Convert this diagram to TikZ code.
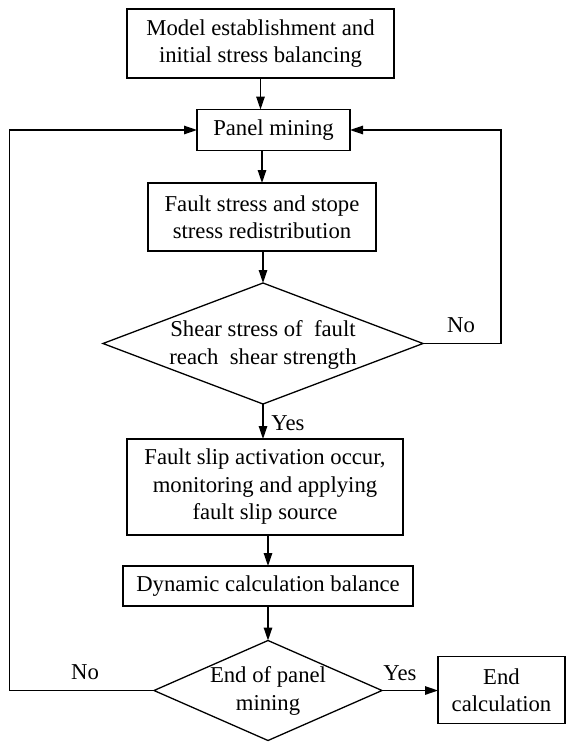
\documentclass[tikz,border=0pt]{standalone}
\usepackage{fontspec}
\setmainfont{Liberation Serif}
\usetikzlibrary{arrows.meta,shapes.geometric}
\begin{document}
\begin{tikzpicture}[x=1pt,y=-1pt,
  font=\fontsize{22.7}{27.5}\selectfont,
  every node/.style={inner sep=0pt,outer sep=0pt},
  boxnode/.style={draw,line width=1.3pt,align=center},
  dianode/.style={draw,line width=1.3pt,diamond,aspect=1},
  lbl/.style={},
  arr/.style={line width=1.3pt,-{Triangle[length=13pt,width=8.5pt]}},
  conn/.style={line width=1.3pt}]
\useasboundingbox (0,0) rectangle (566,742);
\node[boxnode,minimum width=267pt,minimum height=69pt] (b1) at (260.5,43.5) {Model establishment and\\initial stress balancing};
\node[boxnode,minimum width=153pt,minimum height=41pt] (b2) at (273.5,130) {Panel mining};
\node[boxnode,minimum width=228pt,minimum height=68pt] (b3) at (262,217) {Fault stress and stope\\stress redistribution};
\node[dianode,minimum width=320pt,minimum height=121pt] (d1) at (263,343.5) {};
\node[align=center] (t1) at (263,345) {Shear stress of\ \ fault\\reach\ \ shear strength};
\node[boxnode,minimum width=276pt,minimum height=96pt] (b4) at (265,487) {Fault slip activation occur,\\monitoring and applying\\fault slip source};
\node[boxnode,minimum width=290pt,minimum height=40pt] (b5) at (268,586) {Dynamic calculation balance};
\node[dianode,minimum width=228pt,minimum height=100pt] (d2) at (268,690.5) {};
\node[align=center] (t2) at (268,691) {End of panel\\mining};
\node[boxnode,minimum width=127pt,minimum height=67pt] (b6) at (501.5,690) {End\\calculation};
\coordinate (L) at (9.5,130);
\coordinate (R) at (501,130);
\draw[arr] (b1.south) -- (b1.south |- b2.north);
\draw[arr] (b3.north |- b2.south) -- (b3.north);
\draw[arr] (d1.north |- b3.south) -- (d1.north);
\draw[arr] (d1.south) -- (d1.south |- b4.north);
\draw[arr] (b5.north |- b4.south) -- (b5.north);
\draw[arr] (b5.south) -- (d2.north);
\draw[arr] (d2.east) -- (d2.east -| b6.west);
\draw[arr] (d2.west) -| (L) -- (b2.west);
\draw[arr] (d1.east) -| (R) -- (b2.east);
\node[lbl] (no1) at (461,325) {No};
\node[lbl] (yes1) at (288,423) {Yes};
\node[lbl] (no2) at (85,672) {No};
\node[lbl] (yes2) at (400,673) {Yes};
\end{tikzpicture}
\end{document}
